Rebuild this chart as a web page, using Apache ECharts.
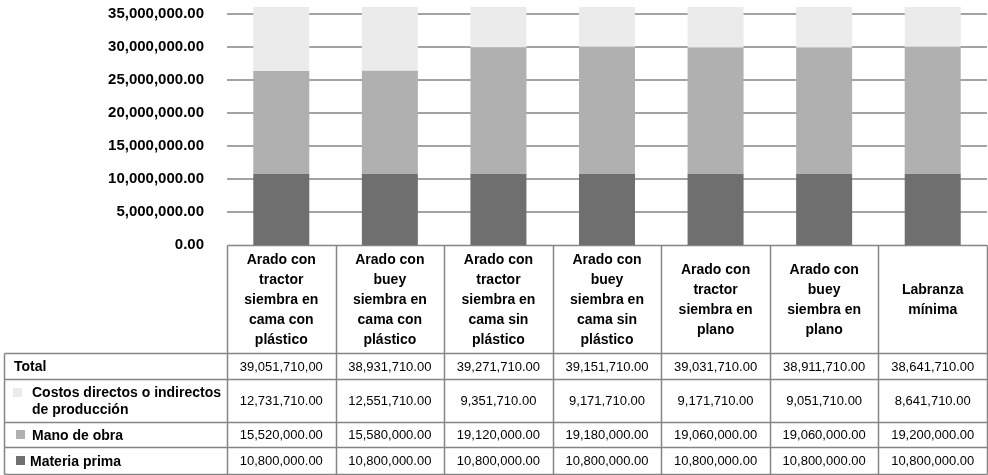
<!DOCTYPE html>
<html>
<head>
<meta charset="utf-8">
<script src="https://cdn.jsdelivr.net/npm/echarts@6/dist/echarts.min.js"></script>
<style>
html,body{margin:0;padding:0;background:#fff;}
#chart{width:988px;height:475px;}
</style>
</head>
<body>
<div id="chart"></div>
<script>
// ---- data ----
const categories = [
  'Arado con\ntractor\nsiembra en\ncama con\nplástico',
  'Arado con\nbuey\nsiembra en\ncama con\nplástico',
  'Arado con\ntractor\nsiembra en\ncama sin\nplástico',
  'Arado con\nbuey\nsiembra en\ncama sin\nplástico',
  'Arado con\ntractor\nsiembra en\nplano',
  'Arado con\nbuey\nsiembra en\nplano',
  'Labranza\nmínima'
];
const seriesNames = ['Costos directos o indirectos\nde producción', 'Mano de obra', 'Materia prima'];
const costos = [12731710, 12551710, 9351710, 9171710, 9171710, 9051710, 8641710];
const manoDeObra = [15520000, 15580000, 19120000, 19180000, 19060000, 19060000, 19200000];
const materiaPrima = [10800000, 10800000, 10800000, 10800000, 10800000, 10800000, 10800000];
const totalLabels = ['39,051,710,00', '38,931,710.00', '39,271,710.00', '39,151,710.00', '39,031,710.00', '38,911,710.00', '38,641,710.00'];
const yTickValues = [0, 5000000, 10000000, 15000000, 20000000, 25000000, 30000000, 35000000];

// ---- styles ----
const BOLD_FONT = '"Liberation Sans", Arial, sans-serif';
const REG_FONT = '"Liberation Sans", Arial, sans-serif';
const colCostos = '#ebebeb', colMano = '#b0b0b0', colMateria = '#6f6f6f';
const lineCol = '#858585';

function fmt(v) {
  return v.toLocaleString('en-US', {minimumFractionDigits: 2, maximumFractionDigits: 2});
}

const chart = echarts.init(document.getElementById('chart'), null, {renderer: 'canvas'});

const option = {
  animation: false,
  backgroundColor: '#fff',
  grid: {left: 227, right: 1, top: 7, height: 238, containLabel: false},
  xAxis: {
    type: 'category',
    data: categories,
    axisLine: {show: false},
    axisTick: {show: false},
    axisLabel: {
      interval: 0, margin: 55, verticalAlign: 'middle', lineHeight: 20,
      fontFamily: BOLD_FONT, fontWeight: 'bold', fontSize: 14, color: '#000', align: 'center'
    }
  },
  yAxis: {
    type: 'value', min: 0, max: 36000000, interval: 5000000,
    axisLine: {show: false}, axisTick: {show: false},
    axisLabel: {
      showMaxLabel: false, margin: 23,
      fontFamily: BOLD_FONT, fontWeight: 'bold', fontSize: 15, color: '#000',
      formatter: function (v) { return yTickValues.indexOf(v) >= 0 ? fmt(v) : ''; }
    },
    splitLine: {show: true, showMaxLine: false, showMinLine: false, lineStyle: {color: lineCol, width: 1.5}}
  },
  series: [
    {name: seriesNames[2], type: 'bar', stack: 'total', data: materiaPrima, barWidth: 56, itemStyle: {color: colMateria}},
    {name: seriesNames[1], type: 'bar', stack: 'total', data: manoDeObra, barWidth: 56, itemStyle: {color: colMano}},
    {name: seriesNames[0], type: 'bar', stack: 'total', data: costos, barWidth: 56, itemStyle: {color: colCostos}}
  ]
};
chart.setOption(option);

// ---- data table drawn with graphic elements, aligned to the category axis ----
const c0 = chart.convertToPixel({xAxisIndex: 0}, 0);
const c1 = chart.convertToPixel({xAxisIndex: 0}, 1);
const band = c1 - c0;
const left0 = c0 - band / 2;
const zeroY = chart.convertToPixel({yAxisIndex: 0}, 0);
const rowYs = [353, 379, 422, 447, 474]; // row boundaries
const tableLeft = 4;
const rightX = left0 + band * categories.length;
const px = v => Math.round(v) + 0.5;

const g = [];
function line(x1, y1, x2, y2) {
  g.push({type: 'line', shape: {x1: px(x1), y1: px(y1), x2: px(x2), y2: px(y2)}, style: {stroke: lineCol, lineWidth: 1.5}, silent: true});
}
line(left0, zeroY, rightX, zeroY);
rowYs.forEach(y => line(tableLeft, y, rightX, y));
line(tableLeft, rowYs[0], tableLeft, rowYs[rowYs.length - 1]);
for (let i = 0; i <= categories.length; i++) {
  line(left0 + band * i, zeroY, left0 + band * i, rowYs[rowYs.length - 1]);
}

const rows = [
  {label: 'Total', values: totalLabels, color: null, tx: 14, mx: 0, my: 0},
  {label: seriesNames[0], values: costos.map(fmt), color: colCostos, tx: 32, mx: 13, my: -8},
  {label: seriesNames[1], values: manoDeObra.map(fmt), color: colMano, tx: 32, mx: 16, my: 0},
  {label: seriesNames[2], values: materiaPrima.map(fmt), color: colMateria, tx: 30, mx: 16, my: 0}
];
rows.forEach((r, ri) => {
  const cy = (rowYs[ri] + rowYs[ri + 1]) / 2;
  if (r.color) {
    g.push({type: 'rect', shape: {x: r.mx, y: Math.round(cy - 4.5 + r.my), width: 9, height: 9}, style: {fill: r.color}, silent: true});
  }
  g.push({type: 'text', silent: true, style: {
    text: r.label, x: r.tx, y: cy + 1.5, textAlign: 'left', textVerticalAlign: 'middle',
    fontFamily: BOLD_FONT, fontWeight: 'bold', fontSize: 14, lineHeight: 17, fill: '#000'
  }});
  r.values.forEach((v, ci) => {
    g.push({type: 'text', silent: true, style: {
      text: v, x: left0 + band * (ci + 0.5), y: cy + 1, textAlign: 'center', textVerticalAlign: 'middle',
      fontFamily: REG_FONT, fontSize: 13, fill: '#000'
    }});
  });
});
chart.setOption({graphic: {elements: g}});
</script>
</body>
</html>
